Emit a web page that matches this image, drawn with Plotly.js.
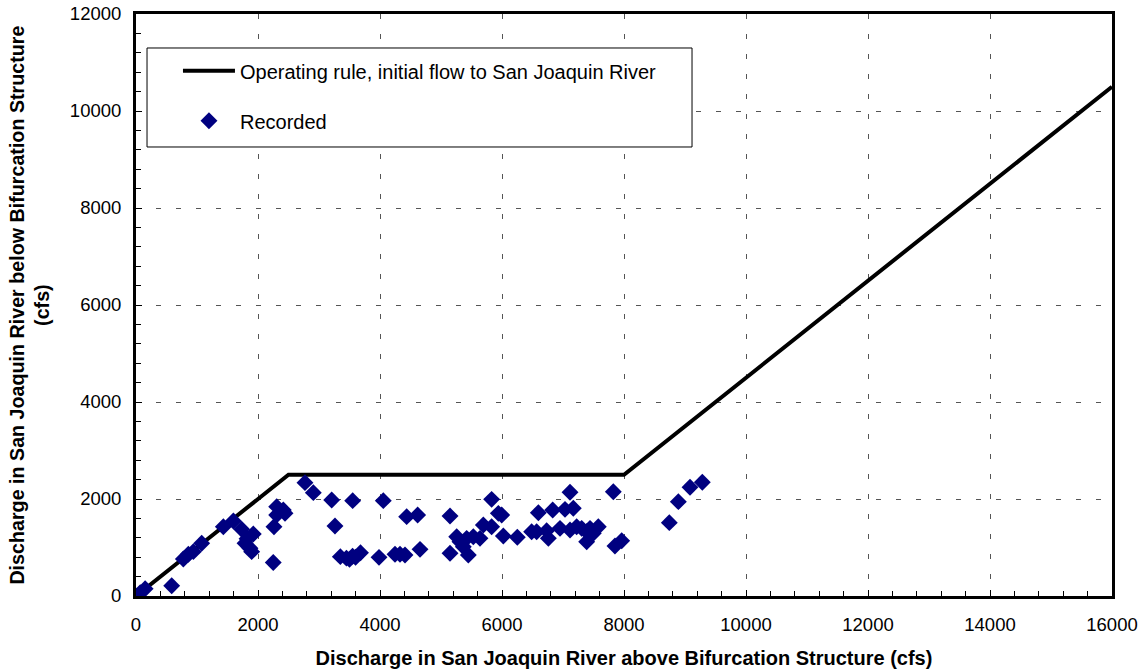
<!DOCTYPE html>
<html>
<head>
<meta charset="utf-8">
<script src="https://cdn.plot.ly/plotly-3.0.1.min.js"></script>
<style>html,body{margin:0;padding:0;background:#fff;}#chart{width:1147px;height:671px;}</style>
</head>
<body>
<div id="chart"></div>
<script>
// Operating rule
const ruleX = [0, 2500, 8000, 16000];
const ruleY = [0, 2500, 2500, 10500];

// Recorded discharge (cfs)
const recX = [0, 70, 150, 585, 776, 858, 940, 1077, 1432, 1596, 1732, 1923, 1787, 1869, 1896, 1820,
  2250, 2262, 2306, 2415, 2443, 2306, 2770, 2907, 3208, 3262, 3552,
  3350, 3450, 3500, 3550, 3600, 3680, 4054, 3984, 4246, 4328, 4410, 4437, 4617, 4656,
  5148, 5148, 5257, 5311, 5366, 5448, 5421, 5530, 5639, 5694, 5830, 5830, 5940,
  5995, 6022, 6251, 6486, 6568, 6596, 6732, 6760, 6831, 6951, 7033, 7115, 7169, 7115,
  7224, 7306, 7388, 7388, 7443, 7579, 7497, 7825, 7852, 7962, 8743, 8891, 9082, 9284];
const recY = [0, 70, 150, 212, 763, 860, 914, 1087, 1429, 1546, 1375, 1278, 1087, 983, 914, 1180,
  690, 1429, 1842, 1773, 1704, 1670, 2337, 2131, 1979, 1443, 1966,
  811, 780, 756, 820, 800, 893, 1966, 797, 860, 860, 845, 1636, 1670, 962,
  1649, 880, 1223, 1120, 1017, 845, 1189, 1223, 1189, 1464, 1429, 1993, 1704,
  1670, 1237, 1210, 1326, 1326, 1718, 1347, 1189, 1773, 1395, 1787, 2138, 1808, 1361,
  1429, 1395, 1326, 1120, 1395, 1429, 1292, 2151, 1031, 1140, 1512, 1945, 2241, 2344];

const xTickVals = [0, 2000, 4000, 6000, 8000, 10000, 12000, 14000, 16000];
const yTickVals = [0, 2000, 4000, 6000, 8000, 10000, 12000];

const FONT = 'Liberation Sans, Arial, sans-serif';

const traces = [
  {x: ruleX, y: ruleY, mode: 'lines', name: 'Operating rule, initial flow to San Joaquin River',
   line: {color: '#000', width: 4}, legendgroup: 'a'},
  {x: recX, y: recY, mode: 'markers', name: 'Recorded',
   marker: {symbol: 'diamond', color: '#000080', size: 13, line: {width: 0}}, legendgroup: 'b'}
];

const axisCommon = {
  showline: true, linecolor: '#000', linewidth: 3, mirror: true,
  ticks: 'inside', ticklen: 6, tickcolor: '#000', tickwidth: 1,
  showgrid: true, gridcolor: '#555', griddash: '5px,15px', gridwidth: 1,
  zeroline: false, tickfont: {family: FONT, size: 18.5, color: '#000'},
  tickmode: 'array'
};

const layout = {
  width: 1147, height: 671,
  margin: {l: 136, r: 35, t: 14, b: 75, pad: 0},
  paper_bgcolor: '#fff', plot_bgcolor: '#fff',
  font: {family: FONT, color: '#000'},
  xaxis: Object.assign({}, axisCommon, {
    range: [0, 16000], tickvals: xTickVals, ticktext: xTickVals.map(String),
    ticklabelstandoff: 10,
    minor: {dtick: 400, ticks: 'inside', ticklen: 5, tickcolor: '#000', showgrid: false},
    title: {text: '<b>Discharge in San Joaquin River above Bifurcation Structure (cfs)</b>',
      font: {family: FONT, size: 20, color: '#000'}, standoff: 17}
  }),
  yaxis: Object.assign({}, axisCommon, {
    range: [0, 12000], tickvals: yTickVals, ticktext: yTickVals.map(String),
    ticklabelstandoff: 8,
    minor: {dtick: 400, ticks: 'inside', ticklen: 5, tickcolor: '#000', showgrid: false}
  }),
  showlegend: true,
  legend: {x: 0.043, y: 0.936, xanchor: 'left', yanchor: 'top', bgcolor: 'rgba(0,0,0,0)',
    borderwidth: 0, font: {family: FONT, size: 20, color: '#000'},
    traceorder: 'grouped', tracegroupgap: 21, itemwidth: 52},
  shapes: [{type: 'rect', xref: 'paper', yref: 'paper', x0: 0.0113, x1: 0.5697, y0: 0.7715, y1: 0.9416,
    line: {color: '#000', width: 1}, fillcolor: '#fff', layer: 'above'}],
  annotations: [{xref: 'paper', yref: 'paper', x: -0.109, y: 0.5, xanchor: 'center', yanchor: 'middle',
    textangle: -90, showarrow: false,
    text: '<b>Discharge in San Joaquin River below Bifurcation Structure<br>(cfs)</b>',
    font: {family: FONT, size: 19.7, color: '#000'}}]
};

Plotly.newPlot('chart', traces, layout, {displayModeBar: false, staticPlot: true});
</script>
</body>
</html>
